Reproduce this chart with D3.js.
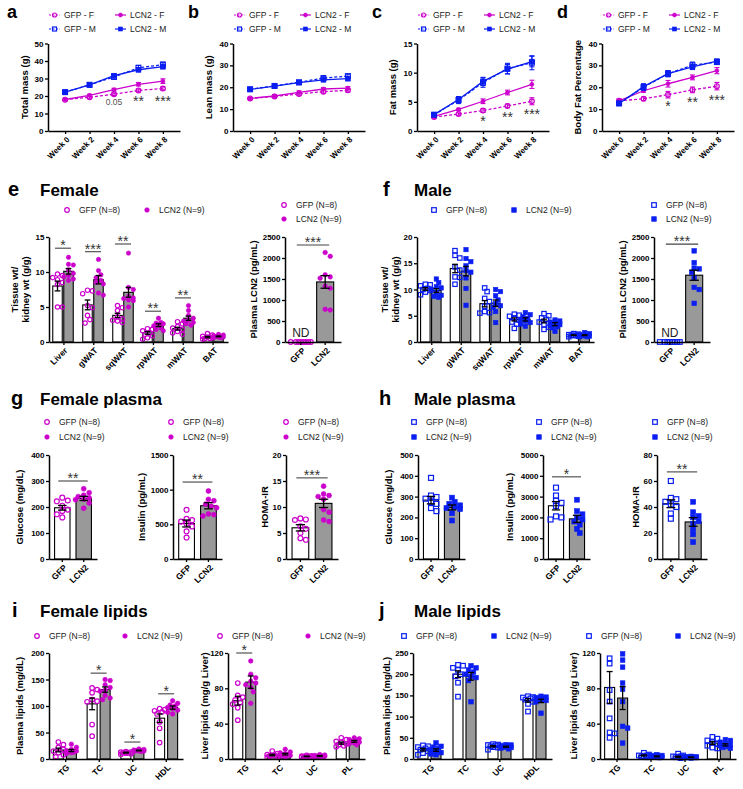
<!DOCTYPE html>
<html><head><meta charset="utf-8">
<script src="https://cdn.jsdelivr.net/npm/d3@7"></script>
<style>
body{margin:0;background:#fff;}
svg{display:block;}
</style></head><body>
<svg id="fig" width="743" height="789"></svg>
<script>
// ================= DATA =================
const weeks = ["Week 0","Week 2","Week 4","Week 6","Week 8"];
const lineSeries = ["GFP - F","LCN2 - F","GFP - M","LCN2 - M"];
// series order: GFP-F, LCN2-F, GFP-M, LCN2-M
const totalMassMean = [[17.9,19.3,21.0,23.2,24.3],[18.0,20.4,23.6,26.7,28.5],[22.2,26.4,30.9,36.1,37.9],[22.2,26.3,31.6,35.0,36.8]];
const totalMassSem  = [[0.5,0.6,0.7,0.8,0.9],[0.5,0.6,0.8,1.0,1.3],[0.8,1.0,1.3,1.4,1.5],[0.7,0.9,1.1,1.2,1.3]];
const leanMassMean  = [[14.9,15.8,16.9,18.0,18.6],[14.9,16.0,17.7,19.2,19.6],[19.1,20.6,22.3,24.2,25.1],[19.0,20.5,22.1,23.4,23.9]];
const leanMassSem   = [[0.4,0.5,0.6,0.7,0.8],[0.4,0.5,0.6,0.6,0.7],[0.5,0.6,0.6,0.8,0.9],[0.5,0.5,0.6,0.7,0.8]];
const fatMassMean   = [[2.4,2.9,3.5,4.3,5.1],[2.5,3.7,5.1,6.6,8.0],[2.8,5.3,8.3,10.7,11.7],[2.8,5.4,8.5,10.6,11.9]];
const fatMassSem    = [[0.2,0.2,0.3,0.3,0.6],[0.2,0.2,0.4,0.4,0.7],[0.3,0.6,0.8,0.9,1.2],[0.3,0.5,0.7,0.8,0.9]];
const bodyFatMean   = [[13.8,14.7,16.6,18.8,20.5],[13.8,18.4,21.6,24.5,27.6],[12.6,20.0,26.2,30.1,31.5],[12.6,20.3,26.2,29.3,31.9]];
const bodyFatSem    = [[0.8,0.8,1.5,1.3,1.7],[0.8,0.7,1.5,1.1,1.4],[0.9,1.4,1.4,1.4,1.0],[0.9,1.3,1.3,1.2,0.9]];
const totalMassMarks = ["","","0.05","**","***"];
const totalMassMarkY = [0,0,16.5,18.8,18.8];
const fatMassMarks = ["","","*","**","***"];
const fatMassMarkY = [0,0,2.2,2.9,3.4];
const bodyFatMarks = ["","","*","**","***"];
const bodyFatMarkY = [0,0,12.8,14.7,15.6];

const tissues = ["Liver","gWAT","sqWAT","rpWAT","mWAT","BAT"];
const femTissueGfpMean = [8.0,5.3,3.8,1.3,1.9,0.7];
const femTissueGfpSem  = [0.7,0.7,0.3,0.2,0.2,0.1];
const femTissueLcnMean = [10.1,8.9,7.1,2.4,3.4,0.8];
const femTissueLcnSem  = [0.4,0.6,0.7,0.2,0.3,0.06];
const femTissueGfpPts = [[9.7,9.5,9.2,8.9,8.5,8.2,5.0,5.0],[7.4,7.3,6.9,5.2,4.9,3.8,3.2,2.7],[5.2,4.9,4.5,3.6,3.3,3.1,3.0,2.8],[1.9,1.8,1.6,1.3,1.1,0.9,0.6,0.4],[2.9,2.6,2.2,2.0,1.8,1.5,1.3,1.1],[1.2,1.0,0.8,0.7,0.6,0.5,0.5,0.4]];
const femTissueLcnPts = [[12.1,11.1,11.0,10.3,9.8,9.5,9.3,9.0,8.8],[11.8,10.2,9.6,9.2,8.8,8.5,8.3,7.0,6.7],[12.7,7.8,7.5,6.5,6.3,6.2,6.0,5.9,5.0],[3.4,2.8,2.7,2.6,2.5,2.3,2.0,1.8,1.6],[5.2,4.5,3.8,3.4,3.1,3.0,2.8,2.6,2.4],[1.1,1.0,0.9,0.8,0.8,0.7,0.7,0.6,0.6]];
const femTissueSig = [{i:0,y:13.4,label:"*"},{i:1,y:12.9,label:"***"},{i:2,y:14.0,label:"**"},{i:3,y:4.4,label:"**"},{i:4,y:6.3,label:"**"}];

const maleTissueGfpMean = [10.1,14.0,7.3,4.3,4.0,1.3];
const maleTissueGfpSem  = [0.25,0.8,0.6,0.3,0.35,0.07];
const maleTissueLcnMean = [9.8,13.5,7.4,4.3,3.4,1.3];
const maleTissueLcnSem  = [0.35,0.9,0.6,0.3,0.3,0.08];
const maleTissueGfpPts = [[11.0,10.9,10.7,10.2,10.0,9.8,9.5,9.0],[17.4,16.5,16.0,14.3,13.7,12.4,12.3,11.0],[10.3,9.6,8.3,7.7,6.8,5.8,5.6,5.5],[5.3,5.1,4.9,4.6,4.2,3.8,3.4,2.6],[5.4,5.0,4.6,4.3,3.8,3.3,2.8,2.4],[1.6,1.5,1.4,1.3,1.3,1.2,1.1,1.0]];
const maleTissueLcnPts = [[12.0,11.3,10.5,10.3,10.0,9.4,8.9,8.7,8.5],[17.6,15.9,15.3,14.5,13.6,13.3,12.2,10.2,7.0],[10.0,9.6,8.8,8.0,7.3,6.9,6.6,5.8,3.7],[5.6,5.2,4.8,4.5,4.3,4.0,3.7,3.4,3.0],[4.2,4.0,3.8,3.5,3.3,3.1,2.9,2.7,2.0],[1.8,1.6,1.4,1.3,1.2,1.2,1.1,1.0,1.0]];

const groups = ["GFP","LCN2"];
const femLcn2Mean = [0,1430], femLcn2Sem = [0,150];
const femLcn2GfpPts = [0,0,0,0,0,0,0,0];
const femLcn2LcnPts = [2130,2040,1600,1550,1520,1330,1280,780,760];
const maleLcn2Mean = [0,1590], maleLcn2Sem = [0,120];
const maleLcn2GfpPts = [0,0,0,0,0,0,0,0];
const maleLcn2LcnPts = [2170,1890,1760,1740,1660,1520,1300,1250,920];

const femGlucoseMean = [197,233], femGlucoseSem = [9,8];
const femGlucoseGfpPts = [236,225,222,205,190,185,172,160];
const femGlucoseLcnPts = [270,255,245,240,235,230,228,215,195];
const femInsulinMean = [512,768], femInsulinSem = [50,45];
const femInsulinGfpPts = [710,580,560,540,510,470,400,310];
const femInsulinLcnPts = [980,860,840,790,760,740,650,640,620];
const femHomaMean = [6.0,10.7], femHomaSem = [0.6,0.8];
const femHomaGfpPts = [7.8,7.6,7.5,6.3,5.8,5.0,4.0,3.7];
const femHomaLcnPts = [14.0,12.5,12.2,12.0,11.5,9.5,9.0,7.5,7.2];

const maleGlucoseMean = [283,248], maleGlucoseSem = [18,12];
const maleGlucoseGfpPts = [390,305,298,290,275,265,245,230];
const maleGlucoseLcnPts = [295,275,265,258,250,245,240,220,185];
const maleInsulinMean = [2560,1930], maleInsulinSem = [200,170];
const maleInsulinGfpPts = [3430,3050,2800,2700,2550,2050,2000,1900];
const maleInsulinLcnPts = [2850,2300,2150,2000,1900,1800,1650,1450,1250];
const maleHomaMean = [42.5,28.5], maleHomaSem = [3,3.3];
const maleHomaGfpPts = [60,47,46,44,42,40,35,31];
const maleHomaLcnPts = [44,36,33,32,29,27,23,19,13];

const plasmaLipids = ["TG","TC","UC","HDL"];
const liverLipids = ["TG","TC","UC","PL"];
const femPlasmaLipGfpMean = [17,104,12,77], femPlasmaLipGfpSem = [3.5,11,0.8,8];
const femPlasmaLipLcnMean = [16,131,16,97], femPlasmaLipLcnSem = [2,5,0.6,3];
const femPlasmaLipGfpPts = [[32,27,22,18,15,12,8,4],[134,131,125,112,109,108,65,43],[14,13,13,12,12,11,10,9],[95,93,91,89,85,70,58,31]];
const femPlasmaLipLcnPts = [[28,22,18,16,15,14,13,12,10],[150,148,140,135,130,128,120,115,112],[19,18,17,16,16,15,15,14,14],[110,105,102,100,97,95,92,88,85]];
const femPlasmaLipSig = [{i:1,y:162,label:"*"},{i:2,y:32,label:"*"},{i:3,y:123,label:"*"}];
const femLiverLipGfpMean = [66,4.5,3,18], femLiverLipGfpSem = [5,0.8,0.3,1.2];
const femLiverLipLcnMean = [87,5.5,3.5,20], femLiverLipLcnSem = [7,0.9,0.4,1];
const femLiverLipGfpPts = [[86,72,70,67,64,62,58,44],[9,6,5,4,4,3.5,3,2],[4,3.5,3.2,3,3,2.8,2.5,2],[24,22,20,19,17,16,15,14]];
const femLiverLipLcnPts = [[111,96,92,88,86,84,81,76,63],[11,8,7,6,5,5,4,3,2],[5,4.5,4,3.5,3.5,3,3,2.5,2.5],[24,23,22,21,20,19,18,17,16]];
const femLiverLipSig = [{i:0,y:120,label:"*"}];

const malePlasmaLipGfpMean = [22,200,30,138], malePlasmaLipGfpSem = [3,8,1.5,4];
const malePlasmaLipLcnMean = [21,195,29,137], malePlasmaLipLcnSem = [3,9,1.2,4];
const malePlasmaLipGfpPts = [[32,30,28,25,22,18,14,10],[222,220,215,210,200,195,180,147],[35,34,33,32,30,28,27,22],[148,146,145,143,140,135,130,112]];
const malePlasmaLipLcnPts = [[38,30,28,25,22,18,15,12,10],[220,215,210,205,200,195,192,185,135],[34,33,32,30,29,28,27,26,24],[148,146,145,143,141,140,138,135,108]];
const maleLiverLipGfpMean = [81,4,2.5,18], maleLiverLipGfpSem = [18,0.6,0.6,1.6];
const maleLiverLipLcnMean = [69,3,2,16], maleLiverLipLcnSem = [13,0.5,0.3,1.2];
const maleLiverLipGfpPts = [[114,108,78,65,46,30,29,24],[7,5,4,4,3.5,3,3,2],[6,4,3,3,2.5,2,2,1],[25,23,21,19,17,15,13,12]];
const maleLiverLipLcnPts = [[119,112,104,86,79,65,37,35,18],[5,4,4,3,3,2.5,2,2,1.5],[3,2.5,2.5,2,2,2,1.5,1.5,1],[22,21,19,17,16,15,14,13,12]];

// ================= DRAWING =================
const FONT = '"Liberation Sans", Arial, Helvetica, sans-serif';
const MAG = "#cc00cc", BLUE = "#0a1ef0", GRAYBAR = "#999999", TXT = "#1a1a1a";
const svg = d3.select("#fig");

function styleAxis(a){
  a.select(".domain").attr("stroke","#000").attr("stroke-width",1.5);
  a.selectAll(".tick line").attr("stroke","#000").attr("stroke-width",1.3);
  a.selectAll(".tick text").attr("font-family",FONT).attr("font-size",8).attr("font-weight","bold").attr("fill","#000");
}
function yAxis(x, y, ticks){
  const a = svg.append("g").attr("transform",`translate(${x},0)`)
    .call(d3.axisLeft(y).tickValues(ticks).tickSize(3).tickSizeOuter(0).tickPadding(1.5).tickFormat(d3.format("d")));
  styleAxis(a);
}
function xAxis(scale, yPos){
  const a = svg.append("g").attr("transform",`translate(0,${yPos})`)
    .call(d3.axisBottom(scale).tickSize(3).tickSizeOuter(0).tickFormat(""));
  styleAxis(a);
}
function rotLabels(pos, cats, yPos, fs){
  cats.forEach(c=>{
    svg.append("text").attr("transform",`translate(${pos(c)+3},${yPos+7}) rotate(-45)`)
      .attr("text-anchor","end").attr("dy","0.35em").attr("font-family",FONT)
      .attr("font-weight","bold").attr("font-size",fs).attr("fill","#000").text(c);
  });
}
function yTitle(lines, x, yc){
  const n = lines.length;
  lines.forEach((l,k)=>{
    svg.append("text").attr("transform",`translate(${x + (k-(n-1)/2)*11},${yc}) rotate(-90)`)
      .attr("text-anchor","middle").attr("dy","0.35em").attr("font-family",FONT)
      .attr("font-weight","bold").attr("font-size",9.5).attr("fill","#000").text(l);
  });
}
function heading(letter, lx, title, tx, by, lfs){
  svg.append("text").attr("x",lx).attr("y",by).attr("font-family",FONT).attr("font-weight","bold")
    .attr("font-size",lfs||20).attr("fill","#000").text(letter);
  if(title) svg.append("text").attr("x",tx).attr("y",by).attr("font-family",FONT).attr("font-weight","bold")
    .attr("font-size",17).attr("fill","#000").text(title);
}
function marker(shape, cx, cy, s, color, filled){
  let m;
  if(shape==="circle") m = svg.append("circle").attr("cx",cx).attr("cy",cy).attr("r",s);
  else m = svg.append("rect").attr("x",cx-s).attr("y",cy-s).attr("width",2*s).attr("height",2*s);
  m.attr("fill", filled?color:"none").attr("stroke",color).attr("stroke-width",filled?0.6:1.2);
  return m;
}
function stars(cx, cy, label, fs){
  svg.append("text").attr("x",cx).attr("y",cy+fs*0.57).attr("text-anchor","middle")
    .attr("font-family",FONT).attr("font-size",fs).attr("fill","#333").text(label);
}
function swarm(vals, y, r, maxOff){
  const placed=[], out=[];
  const sorted = vals.map((v,i)=>[v,i]).sort((a,b)=>b[0]-a[0]);
  sorted.forEach(([v])=>{
    const py = y(v);
    const cands=[0];
    for(let k=1;k<=10;k++){ cands.push(k*r*1.05, -k*r*1.05); }
    let best=null, bestD=-1;
    for(const dx of cands){
      if(Math.abs(dx)>maxOff) continue;
      const d = placed.length? Math.min(...placed.map(p=>Math.hypot(p[0]-dx,p[1]-py))) : 99;
      if(d>=2*r*0.95){ best=dx; break; }
      if(d>bestD){ bestD=d; best=dx; }
    }
    placed.push([best,py]); out.push([best,py]);
  });
  return out;
}
function errBar(cx, y, m, s, cap, color, sw){
  const g = svg.append("g").attr("stroke",color).attr("stroke-width",sw||1.3).attr("fill","none");
  g.append("line").attr("x1",cx).attr("x2",cx).attr("y1",y(m-s)).attr("y2",y(m+s));
  g.append("line").attr("x1",cx-cap/2).attr("x2",cx+cap/2).attr("y1",y(m+s)).attr("y2",y(m+s));
  g.append("line").attr("x1",cx-cap/2).attr("x2",cx+cap/2).attr("y1",y(m-s)).attr("y2",y(m-s));
}
function legendItem(shape, color, filled, x, y, label){
  marker(shape, x, y, 2.3, color, filled);
  svg.append("text").attr("x",x+12).attr("y",y).attr("dy","0.35em").attr("font-family",FONT)
    .attr("font-size",8.5).attr("fill",TXT).text(label);
}

// ---------- line panels ----------
const lineStyle = [
  {color:MAG, dash:"3,2", shape:"circle", filled:false},
  {color:MAG, dash:null, shape:"circle", filled:true},
  {color:BLUE, dash:"3,2", shape:"square", filled:false},
  {color:BLUE, dash:null, shape:"square", filled:true}
];
function linePanel(cfg){
  const yTop=43.5, yBot=131, x0=cfg.axisX, x1=cfg.axisX+132;
  const y = d3.scaleLinear().domain([0,cfg.ymax]).range([yBot,yTop]);
  const x = d3.scalePoint().domain(weeks).range([x0,x1]).padding(0.7);
  cfg.means.forEach((ser,si)=>{
    const st = lineStyle[si];
    const line = d3.line().x((d,i)=>x(weeks[i])).y(d=>y(d));
    svg.append("path").attr("d",line(ser)).attr("fill","none").attr("stroke",st.color)
      .attr("stroke-width",1.3).attr("stroke-dasharray",st.dash);
    ser.forEach((v,i)=>errBar(x(weeks[i]), y, v, cfg.sems[si][i], 5, st.color, 1.1));
    ser.forEach((v,i)=>marker(st.shape, x(weeks[i]), y(v), st.shape==="circle"?(st.filled?2:2.4):2.4, st.color, st.filled));
  });
  yAxis(x0, y, cfg.ticks);
  xAxis(x, yBot);
  rotLabels(p=>x(p), weeks, yBot, 8);
  yTitle([cfg.title], cfg.titleX, (yTop+yBot)/2);
  heading(cfg.letter, cfg.letterX, null, 0, 18, 18);
  const lg = [[0,0],[1,0],[0,1],[1,1]];
  lineSeries.forEach((name,si)=>{
    const st = lineStyle[si];
    const lx = x0+1+lg[si][0]*66, ly = 15+lg[si][1]*14;
    svg.append("line").attr("x1",lx).attr("x2",lx+11).attr("y1",ly).attr("y2",ly)
      .attr("stroke",st.color).attr("stroke-width",1.2).attr("stroke-dasharray",st.dash?"2,1.5":null);
    marker(st.shape, lx+5.5, ly, 2, st.color, st.filled);
    svg.append("text").attr("x",lx+15).attr("y",ly).attr("dy","0.35em").attr("font-family",FONT)
      .attr("font-size",8.5).attr("fill",TXT).text(name);
  });
  if(cfg.marks){
    cfg.marks.forEach((m,i)=>{
      if(!m) return;
      if(m==="0.05"){
        svg.append("text").attr("x",x(weeks[i])).attr("y",y(cfg.markY[i])+3).attr("text-anchor","middle")
          .attr("font-family",FONT).attr("font-size",8.5).attr("fill","#555").text(m);
      } else stars(x(weeks[i]), y(cfg.markY[i]), m, 14);
    });
  }
}
linePanel({axisX:48, ymax:50, ticks:[0,10,20,30,40,50], means:totalMassMean, sems:totalMassSem, title:"Total mass (g)", titleX:25, letter:"a", letterX:7, marks:totalMassMarks, markY:totalMassMarkY});
linePanel({axisX:233, ymax:40, ticks:[0,10,20,30,40], means:leanMassMean, sems:leanMassSem, title:"Lean mass (g)", titleX:209, letter:"b", letterX:188});
linePanel({axisX:417, ymax:15, ticks:[0,5,10,15], means:fatMassMean, sems:fatMassSem, title:"Fat mass (g)", titleX:393, letter:"c", letterX:372, marks:fatMassMarks, markY:fatMassMarkY});
linePanel({axisX:602, ymax:40, ticks:[0,10,20,30,40], means:bodyFatMean, sems:bodyFatSem, title:"Body Fat Percentage", titleX:578, letter:"d", letterX:557, marks:bodyFatMarks, markY:bodyFatMarkY});

// ---------- grouped bar panels ----------
function groupedPanel(c){
  const y = d3.scaleLinear().domain([0,c.ymax]).range([c.yBot,c.yTop]);
  const x = d3.scaleBand().domain(c.cats).range([c.axisX-1,c.axisEnd]).paddingInner(0).paddingOuter(0);
  const cx = k => x(k)+x.bandwidth()/2;
  const sets = [
    {mean:c.gMean, sem:c.gSem, pts:c.gPts, fill:"#fff", off:-c.off, filled:false},
    {mean:c.lMean, sem:c.lSem, pts:c.lPts, fill:GRAYBAR, off:c.off, filled:true}
  ];
  sets.forEach(s=>{
    c.cats.forEach((k,i)=>{
      svg.append("rect").attr("x",cx(k)+s.off-c.barW/2).attr("y",y(s.mean[i]))
        .attr("width",c.barW).attr("height",c.yBot-y(s.mean[i]))
        .attr("fill",s.fill).attr("stroke","#000").attr("stroke-width",1.1);
    });
  });
  sets.forEach(s=>{
    c.cats.forEach((k,i)=>{
      swarm(s.pts[i], y, c.r, c.barW*0.55).forEach(([dx,py])=>marker(c.shape, cx(k)+s.off+dx, py, c.r*0.95, c.color, s.filled));
    });
  });
  sets.forEach(s=>{
    c.cats.forEach((k,i)=>errBar(cx(k)+s.off, y, s.mean[i], s.sem[i], c.barW*0.6, "#000", 1.3));
  });
  yAxis(c.axisX, y, c.ticks);
  xAxis(d3.scaleBand().domain(c.cats).range([c.axisX,c.axisEnd]), c.yBot);
  rotLabels(cx, c.cats, c.yBot, 8.5);
  yTitle(c.title, c.titleX, (c.yTop+c.yBot)/2);
  (c.sig||[]).forEach(s=>{
    const k = c.cats[s.i], ly = y(s.y);
    svg.append("line").attr("x1",cx(k)-8).attr("x2",cx(k)+8).attr("y1",ly).attr("y2",ly).attr("stroke","#444").attr("stroke-width",1.1);
    stars(cx(k), ly-6, s.label, 14);
  });
}
function pairPanel(c){
  const y = d3.scaleLinear().domain([0,c.ymax]).range([c.yBot,c.yTop]);
  const x = d3.scaleBand().domain(groups).range([c.axisX,c.axisEnd]).paddingInner(c.pin||0.28).paddingOuter(c.pout||0.26);
  const cx = k => x(k)+x.bandwidth()/2;
  const bw = x.bandwidth();
  const sets = [
    {k:"GFP", mean:c.mean[0], sem:c.sem[0], pts:c.gPts, fill:"#fff", filled:false},
    {k:"LCN2", mean:c.mean[1], sem:c.sem[1], pts:c.lPts, fill:GRAYBAR, filled:true}
  ];
  sets.forEach(s=>{
    if(c.nd && s.k==="GFP") return;
    svg.append("rect").attr("x",x(s.k)).attr("y",y(s.mean)).attr("width",bw).attr("height",c.yBot-y(s.mean))
      .attr("fill",s.fill).attr("stroke","#000").attr("stroke-width",1.1);
  });
  sets.forEach(s=>{
    swarm(s.pts, y, c.r, c.nd && s.k==="GFP" ? 11 : bw*0.55).forEach(([dx,py])=>marker(c.shape, cx(s.k)+dx, py, c.r*0.95, c.color, s.filled));
  });
  sets.forEach(s=>{ if(!(c.nd && s.k==="GFP")) errBar(cx(s.k), y, s.mean, s.sem, bw*0.55, "#000", 1.3); });
  if(c.nd){
    svg.append("text").attr("x",cx("GFP")).attr("y",c.yBot-5).attr("text-anchor","middle")
      .attr("font-family",FONT).attr("font-size",12).attr("fill","#222").text("ND");
  }
  yAxis(c.axisX, y, c.ticks);
  xAxis(x, c.yBot);
  rotLabels(cx, groups, c.yBot, 8.5);
  yTitle([c.title], c.titleX, (c.yTop+c.yBot)/2);
  if(c.sig){
    const ly = y(c.sig.y);
    svg.append("line").attr("x1",cx("GFP")-4).attr("x2",cx("LCN2")+4).attr("y1",ly).attr("y2",ly).attr("stroke","#444").attr("stroke-width",1.1);
    stars((cx("GFP")+cx("LCN2"))/2, ly-6, c.sig.label, 14);
  }
}

// ---- row e / f ----
heading("e", 8, "Female", 40, 196);
legendItem("circle", MAG, false, 67, 210, "GFP (N=8)");
legendItem("circle", MAG, true, 147, 210, "LCN2 (N=9)");
groupedPanel({axisX:49, axisEnd:228, yTop:237, yBot:342, ymax:15, ticks:[0,5,10,15], cats:tissues,
  gMean:femTissueGfpMean, gSem:femTissueGfpSem, lMean:femTissueLcnMean, lSem:femTissueLcnSem,
  gPts:femTissueGfpPts, lPts:femTissueLcnPts, color:MAG, shape:"circle", barW:9.5, off:5.5, r:2.3,
  sig:femTissueSig, title:["Tissue wt/","kidney wt (g/g)"], titleX:20});
legendItem("circle", MAG, false, 284, 205, "GFP (N=8)");
legendItem("circle", MAG, true, 284, 219, "LCN2 (N=9)");
pairPanel({axisX:285, axisEnd:341, yTop:237, yBot:342, ymax:2500, ticks:[0,500,1000,1500,2000,2500],
  mean:femLcn2Mean, sem:femLcn2Sem, gPts:femLcn2GfpPts, lPts:femLcn2LcnPts, color:MAG, shape:"circle", r:2.4,
  nd:true, pin:0.3, pout:0.3, sig:{y:2310,label:"***"}, title:"Plasma LCN2 (pg/mL)", titleX:254});

heading("f", 383, "Male", 414, 196);
legendItem("square", BLUE, false, 434, 210, "GFP (N=8)");
legendItem("square", BLUE, true, 514, 210, "LCN2 (N=9)");
groupedPanel({axisX:417, axisEnd:594, yTop:237, yBot:342, ymax:20, ticks:[0,5,10,15,20], cats:tissues,
  gMean:maleTissueGfpMean, gSem:maleTissueGfpSem, lMean:maleTissueLcnMean, lSem:maleTissueLcnSem,
  gPts:maleTissueGfpPts, lPts:maleTissueLcnPts, color:BLUE, shape:"square", barW:9.5, off:5.5, r:2.3,
  title:["Tissue wt/","kidney wt (g/g)"], titleX:390});
legendItem("square", BLUE, false, 654, 205, "GFP (N=8)");
legendItem("square", BLUE, true, 654, 219, "LCN2 (N=9)");
pairPanel({axisX:654, axisEnd:710, yTop:237, yBot:342, ymax:2500, ticks:[0,500,1000,1500,2000,2500],
  mean:maleLcn2Mean, sem:maleLcn2Sem, gPts:maleLcn2GfpPts, lPts:maleLcn2LcnPts, color:BLUE, shape:"square", r:2.4,
  nd:true, pin:0.3, pout:0.3, sig:{y:2330,label:"***"}, title:"Plasma LCN2 (pg/mL)", titleX:623});

// ---- row g / h ----
heading("g", 11, "Female plasma", 40, 405);
[47,171,286].forEach(lx=>{ legendItem("circle", MAG, false, lx, 422, "GFP (N=8)"); legendItem("circle", MAG, true, lx, 437, "LCN2 (N=9)"); });
pairPanel({axisX:49, axisEnd:97, yTop:455, yBot:559, ymax:400, ticks:[0,100,200,300,400],
  mean:femGlucoseMean, sem:femGlucoseSem, gPts:femGlucoseGfpPts, lPts:femGlucoseLcnPts, color:MAG, shape:"circle", r:2.6,
  sig:{y:300,label:"**"}, title:"Glucose (mg/dL)", titleX:20});
pairPanel({axisX:173, axisEnd:222, yTop:455, yBot:559, ymax:1500, ticks:[0,500,1000,1500],
  mean:femInsulinMean, sem:femInsulinSem, gPts:femInsulinGfpPts, lPts:femInsulinLcnPts, color:MAG, shape:"circle", r:2.6,
  sig:{y:1110,label:"**"}, title:"Insulin (pg/mL)", titleX:142});
pairPanel({axisX:286, axisEnd:338, yTop:455, yBot:559, ymax:20, ticks:[0,5,10,15,20],
  mean:femHomaMean, sem:femHomaSem, gPts:femHomaGfpPts, lPts:femHomaLcnPts, color:MAG, shape:"circle", r:2.6,
  sig:{y:15.6,label:"***"}, title:"HOMA-IR", titleX:265});

heading("h", 379, "Male plasma", 414, 405);
[414,539,655].forEach(lx=>{ legendItem("square", BLUE, false, lx, 422, "GFP (N=8)"); legendItem("square", BLUE, true, lx, 437, "LCN2 (N=9)"); });
pairPanel({axisX:418, axisEnd:465, yTop:455, yBot:559, ymax:500, ticks:[0,100,200,300,400,500],
  mean:maleGlucoseMean, sem:maleGlucoseSem, gPts:maleGlucoseGfpPts, lPts:maleGlucoseLcnPts, color:BLUE, shape:"square", r:2.6,
  title:"Glucose (mg/dL)", titleX:389});
pairPanel({axisX:543, axisEnd:590, yTop:455, yBot:559, ymax:5000, ticks:[0,1000,2000,3000,4000,5000],
  mean:maleInsulinMean, sem:maleInsulinSem, gPts:maleInsulinGfpPts, lPts:maleInsulinLcnPts, color:BLUE, shape:"square", r:2.6,
  sig:{y:3950,label:"*"}, title:"Insulin (pg/mL)", titleX:510});
pairPanel({axisX:657, axisEnd:707, yTop:455, yBot:559, ymax:80, ticks:[0,20,40,60,80],
  mean:maleHomaMean, sem:maleHomaSem, gPts:maleHomaGfpPts, lPts:maleHomaLcnPts, color:BLUE, shape:"square", r:2.6,
  sig:{y:67,label:"**"}, title:"HOMA-IR", titleX:636});

// ---- row i / j ----
heading("i", 12, "Female lipids", 40, 617);
legendItem("circle", MAG, false, 37, 636, "GFP (N=8)");
legendItem("circle", MAG, true, 125, 636, "LCN2 (N=9)");
legendItem("circle", MAG, false, 220, 636, "GFP (N=8)");
legendItem("circle", MAG, true, 308, 636, "LCN2 (N=9)");
groupedPanel({axisX:49, axisEnd:183, yTop:653, yBot:759, ymax:200, ticks:[0,50,100,150,200], cats:plasmaLipids,
  gMean:femPlasmaLipGfpMean, gSem:femPlasmaLipGfpSem, lMean:femPlasmaLipLcnMean, lSem:femPlasmaLipLcnSem,
  gPts:femPlasmaLipGfpPts, lPts:femPlasmaLipLcnPts, color:MAG, shape:"circle", barW:10, off:6.5, r:2.4,
  sig:femPlasmaLipSig, title:["Plasma lipids (mg/dL)"], titleX:20});
groupedPanel({axisX:228, axisEnd:365, yTop:653, yBot:759, ymax:120, ticks:[0,40,80,120], cats:liverLipids,
  gMean:femLiverLipGfpMean, gSem:femLiverLipGfpSem, lMean:femLiverLipLcnMean, lSem:femLiverLipLcnSem,
  gPts:femLiverLipGfpPts, lPts:femLiverLipLcnPts, color:MAG, shape:"circle", barW:10, off:6.5, r:2.4,
  sig:femLiverLipSig, title:["Liver lipids (mg/g Liver)"], titleX:205});

heading("j", 379, "Male lipids", 414, 617);
legendItem("square", BLUE, false, 404, 636, "GFP (N=8)");
legendItem("square", BLUE, true, 494, 636, "LCN2 (N=9)");
legendItem("square", BLUE, false, 589, 636, "GFP (N=8)");
legendItem("square", BLUE, true, 678, 636, "LCN2 (N=9)");
groupedPanel({axisX:413, axisEnd:552, yTop:653, yBot:759, ymax:250, ticks:[0,50,100,150,200,250], cats:plasmaLipids,
  gMean:malePlasmaLipGfpMean, gSem:malePlasmaLipGfpSem, lMean:malePlasmaLipLcnMean, lSem:malePlasmaLipLcnSem,
  gPts:malePlasmaLipGfpPts, lPts:malePlasmaLipLcnPts, color:BLUE, shape:"square", barW:10, off:6.5, r:2.4,
  title:["Plasma lipids (mg/dL)"], titleX:387});
groupedPanel({axisX:600, axisEnd:736, yTop:653, yBot:759, ymax:120, ticks:[0,40,80,120], cats:liverLipids,
  gMean:maleLiverLipGfpMean, gSem:maleLiverLipGfpSem, lMean:maleLiverLipLcnMean, lSem:maleLiverLipLcnSem,
  gPts:maleLiverLipGfpPts, lPts:maleLiverLipLcnPts, color:BLUE, shape:"square", barW:10, off:6.5, r:2.4,
  title:["Liver lipids (mg/g Liver)"], titleX:574});
</script>
</body></html>
